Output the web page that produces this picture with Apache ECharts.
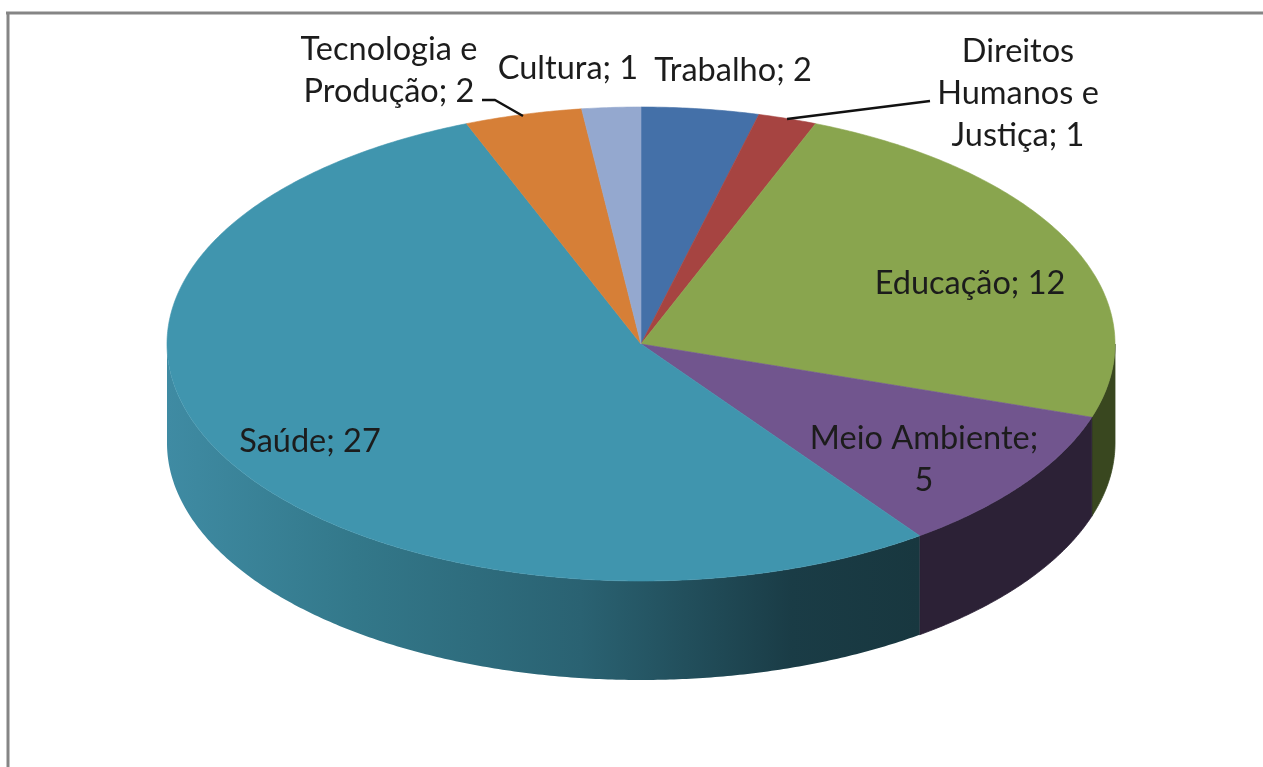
<!DOCTYPE html>
<html>
<head>
<meta charset="utf-8">
<style>
  html, body { margin: 0; padding: 0; background: #fff; }
  #chart { width: 1263px; height: 767px; filter: blur(0.7px); }
</style>
<script src="https://cdn.jsdelivr.net/npm/echarts@6/dist/echarts.min.js"></script>
</head>
<body>
<div id="chart"></div>
<script>
// clockwise from 12 o'clock
const categories = ['Trabalho', 'Direitos Humanos e Justiça', 'Educação', 'Meio Ambiente', 'Saúde', 'Tecnologia e Produção', 'Cultura'];
const values = [2, 1, 12, 5, 27, 2, 1];
const labelTexts = ['Trabalho; 2', 'Direitos\nHumanos e\nJustiça; 1', 'Educação; 12', 'Meio Ambiente;\n5', 'Saúde; 27', 'Tecnologia e\nProdução; 2', 'Cultura; 1'];
const labelAnchors = [[733, 71], [1018, 94], [970, 284], [924, 460], [310, 442], [389, 71], [568, 69]];
const topColors = ['#4470a8', '#a64441', '#89a54e', '#71558e', '#4095ae', '#d67f37', '#94a8cf'];
const sideColors = ['#2a4568', '#662a28', '#39471f', '#2c2136', '#18373f', '#85501f', '#5b6880'];
const leaderTecnologia = [[482, 100], [495, 100], [523, 116]];
const leaderDireitos = [[787, 119], [930, 101]];

const cx = 641, cy = 344, rx = 474, ry = 237, depth = 99;
const total = values.reduce((a, b) => a + b, 0);

// top of the disc, angle in degrees clockwise from 12 o'clock
function rimPoint(api, deg, drop) {
  const t = (deg * Math.PI) / 180;
  return api.coord([cx + rx * Math.sin(t), cy - ry * Math.cos(t) + drop]);
}

function renderSlice(params, api) {
  const i = params.dataIndex;
  const before = values.slice(0, i).reduce((a, b) => a + b, 0);
  const start = (before / total) * 360;
  const end = ((before + api.value(1)) / total) * 360;
  const children = [];

  // wall, only the front half shows
  const a = Math.max(start, 90);
  const b = Math.min(end, 270);
  if (a < b) {
    const wall = [];
    for (let d = a; d < b; d += 0.5) wall.push(rimPoint(api, d, 0));
    wall.push(rimPoint(api, b, 0));
    for (let d = b; d > a; d -= 0.5) wall.push(rimPoint(api, d, depth));
    wall.push(rimPoint(api, a, depth));
    // the big slice fades from dark at its right side to lighter at the left
    const fill = i === 4
      ? new echarts.graphic.LinearGradient(0, 0, 1, 0, [
          { offset: 0, color: '#3f8ba3' },
          { offset: 0.25, color: '#33788a' },
          { offset: 0.55, color: '#2a6272' },
          { offset: 0.83, color: '#1a3c46' },
          { offset: 1, color: '#18373f' },
        ])
      : sideColors[i];
    children.push({ type: 'polygon', shape: { points: wall }, style: { fill: fill, stroke: i === 4 ? '#18373f' : sideColors[i], lineWidth: i === 4 ? 0 : 0.8 } });
  }

  const top = [api.coord([cx, cy])];
  for (let d = start; d < end; d += 0.5) top.push(rimPoint(api, d, 0));
  top.push(rimPoint(api, end, 0));
  children.push({
    type: 'polygon',
    shape: { points: top },
    style: { fill: topColors[i], stroke: topColors[i], lineWidth: 0.6 },
  });
  return { type: 'group', children: children };
}

function renderLabel(params, api) {
  const i = params.dataIndex;
  const p = api.coord(labelAnchors[i]);
  return {
    type: 'text',
    style: {
      x: p[0],
      y: p[1],
      text: labelTexts[i],
      fill: '#1c1c1c',
      font: '32.5px Lato',
      lineHeight: 42,
      align: 'center',
      verticalAlign: 'middle',
    },
  };
}

const sliceData = categories.map((name, i) => ({ name: name, value: [i, values[i]] }));

const chart = echarts.init(document.getElementById('chart'));
chart.setOption({
  animation: false,
  backgroundColor: '#fff',
  grid: { left: 0, right: 0, top: 0, bottom: 0 },
  xAxis: { type: 'value', min: 0, max: 1263, show: false },
  yAxis: { type: 'value', min: 0, max: 767, inverse: true, show: false },
  graphic: [
    { type: 'line', shape: { x1: 6, y1: 13, x2: 1263, y2: 13 }, style: { stroke: '#858585', lineWidth: 3 } },
    { type: 'line', shape: { x1: 8, y1: 12, x2: 8, y2: 767 }, style: { stroke: '#858585', lineWidth: 3 } },
  ],
  series: [
    { type: 'custom', coordinateSystem: 'cartesian2d', renderItem: renderSlice, data: sliceData, silent: true, clip: false },
    { type: 'line', data: leaderTecnologia, showSymbol: false, silent: true, lineStyle: { color: '#111', width: 2.5 }, z: 5 },
    { type: 'line', data: leaderDireitos, showSymbol: false, silent: true, lineStyle: { color: '#111', width: 2.5 }, z: 5 },
    { type: 'custom', coordinateSystem: 'cartesian2d', renderItem: renderLabel, data: sliceData, silent: true, z: 6 },
  ],
});
</script>
</body>
</html>
